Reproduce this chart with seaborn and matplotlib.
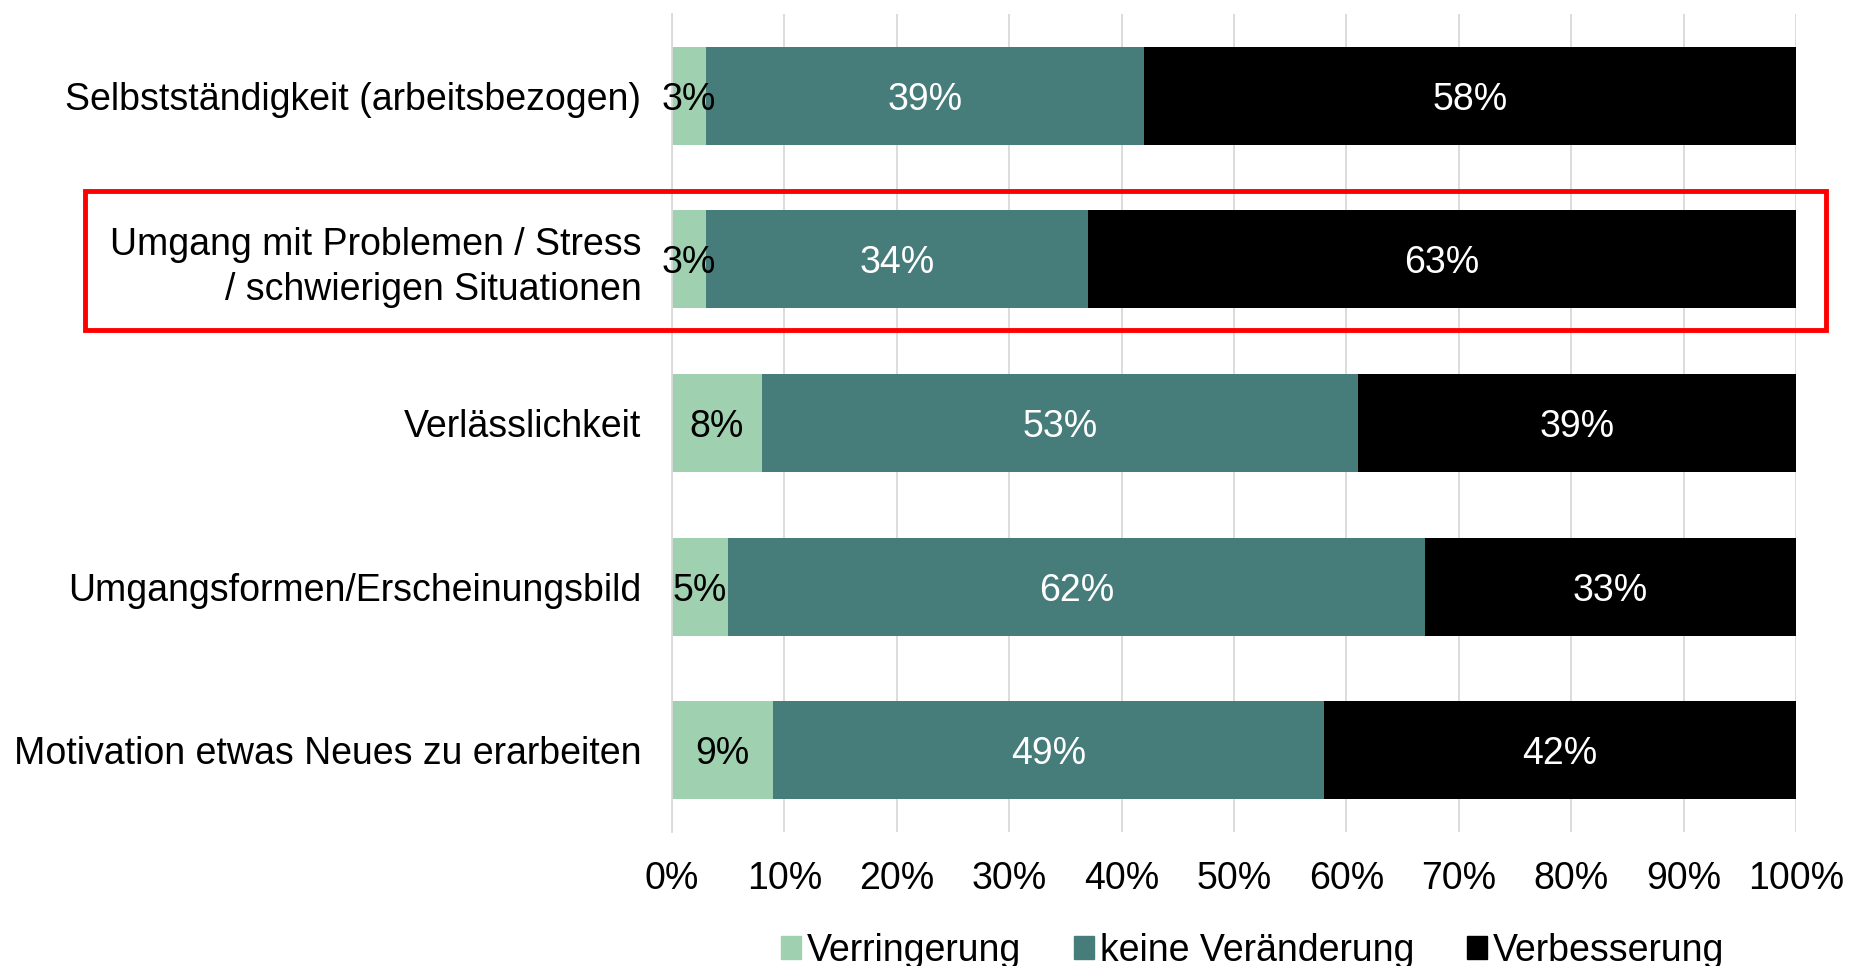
import matplotlib
matplotlib.use('Agg')
import matplotlib.pyplot as plt
import matplotlib.patches as mpatches
import seaborn as sns
import pandas as pd
import numpy as np

# categories and series (percent)
categories = [
    'Selbstständigkeit (arbeitsbezogen)',
    'Umgang mit Problemen / Stress\n/ schwierigen Situationen',
    'Verlässlichkeit',
    'Umgangsformen/Erscheinungsbild',
    'Motivation etwas Neues zu erarbeiten',
]
verringerung = [3, 3, 8, 5, 9]
keine_veraenderung = [39, 34, 53, 62, 49]
verbesserung = [58, 63, 39, 33, 42]
series_names = ['Verringerung', 'keine Veränderung', 'Verbesserung']
colors = ['#9fd1b0', '#467d7a', '#000000']
label_colors = ['black', 'white', 'white']
x_ticks = np.arange(0, 101, 10)

sns.set_theme(style='white')
plt.rcParams['font.family'] = ['Liberation Sans', 'DejaVu Sans']
plt.rcParams['text.color'] = 'black'
plt.rcParams['xtick.color'] = 'black'
plt.rcParams['ytick.color'] = 'black'

FS = 27

df = pd.DataFrame({
    'cat': categories,
    series_names[0]: verringerung,
    series_names[1]: keine_veraenderung,
    series_names[2]: verbesserung,
})
cum = df[series_names].cumsum(axis=1)

fig = plt.figure(figsize=(18.5, 9.66), dpi=100)
ax = fig.add_axes([0.3632, 0.1387, 0.6076, 0.8468])

# draw from right-most cumulative total to left so stacks overlap correctly
for name, col in reversed(list(zip(series_names, colors))):
    sns.barplot(x=cum[name], y=df['cat'], orient='h', color=col,
                width=0.6, ax=ax, saturation=1, linewidth=0)
if ax.get_legend() is not None:
    ax.get_legend().remove()

# segment labels
for i in range(len(df)):
    left = 0
    for name, tc in zip(series_names, label_colors):
        v = df.loc[i, name]
        ax.text(left + v / 2, i, f'{v}%', ha='center', va='center_baseline',
                fontsize=FS, color=tc)
        left += v

ax.set_xlim(0, 100)
ax.set_ylim(len(df) - 0.5, -0.5)
ax.set_xticks(x_ticks)
ax.set_xticklabels([f'{t}%' for t in x_ticks])
ax.set_xlabel('')
ax.set_ylabel('')
ax.grid(axis='x', color='#d9d9d9', linewidth=1.3)
ax.set_axisbelow(True)
for s in ['top', 'right', 'bottom']:
    ax.spines[s].set_visible(False)
ax.spines['left'].set_color('#d9d9d9')
ax.spines['left'].set_linewidth(1.3)
ax.tick_params(axis='x', length=0, pad=21, labelsize=FS)
ax.tick_params(axis='y', which='major', length=0, pad=22, labelsize=FS)
ax.set_yticks(np.arange(-0.5, len(df), 1), minor=True)
ax.tick_params(axis='y', which='minor', length=8, color='#d9d9d9', width=1.3)
for lbl in ax.get_yticklabels():
    lbl.set_multialignment('right')
    lbl.set_linespacing(1.3)

handles = [mpatches.Patch(color=c, label=n) for n, c in zip(series_names, colors)]
fig.legend(handles=handles, loc='center', bbox_to_anchor=(0.677, 0.016),
           ncol=3, frameon=False, fontsize=FS, handlelength=0.55,
           handleheight=0.55, handletextpad=0.15, columnspacing=1.4)

# highlight box around the second row
fig.add_artist(mpatches.Rectangle((0.046, 1 - 330 / 966), 0.941, 139 / 966,
                                  transform=fig.transFigure, fill=False,
                                  edgecolor='#ff0000', linewidth=3.5))

fig.savefig('out.png', dpi=100)
